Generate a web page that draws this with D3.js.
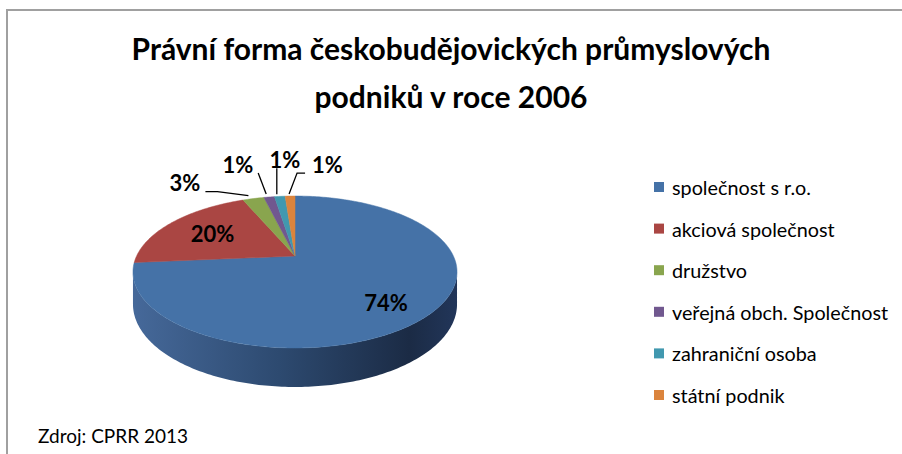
<!DOCTYPE html>
<html>
<head>
<meta charset="utf-8">
<script src="https://cdn.jsdelivr.net/npm/d3@7"></script>
<style>
  body { margin: 0; background: #fff; }
  svg { display: block; }
</style>
</head>
<body>
<svg id="chart" width="902" height="454"></svg>
<script>
// data
const categories = [
  "společnost s r.o.",
  "akciová společnost",
  "družstvo",
  "veřejná obch. Společnost",
  "zahraniční osoba",
  "státní podnik"
];
const shares = [73.6, 20.0, 2.6, 1.3, 1.3, 1.2];
const colors = ["#4572a7", "#aa4643", "#89a54e", "#71588f", "#4198af", "#db843d"];
const titleLines = ["Právní forma českobudějovických průmyslových", "podniků v roce 2006"];
const sourceText = "Zdroj: CPRR 2013";

const svg = d3.select("#chart");
const font = "Lato, 'Open Sans', sans-serif";

// pie geometry (simple perspective of a flat disc)
const cx = 295, cy = 256;
const a = 158.4, b = 72.6, k = 0.2105, depth = 30.8;

function project(theta, r) {
  let u = r * Math.sin(theta);
  let v = -r * Math.cos(theta);
  let w = 1 - k * v;
  return [cx + (a * u) / w, cy + (b * v) / w];
}

function arcPoints(t0, t1, r, drop) {
  let n = Math.max(4, Math.ceil(Math.abs(t1 - t0) * 60));
  let pts = [];
  for (let i = 0; i <= n; i++) {
    let t = t0 + ((t1 - t0) * i) / n;
    let p = project(t, r);
    if (drop) {
      let w = 1 + k * r * Math.cos(t);
      p[1] += depth / w;
    }
    pts.push(p);
  }
  return pts;
}

const line = d3.line();

// border (top and left edges of the chart area)
svg.append("path")
  .attr("d", "M7,454 L7,10 L902,10")
  .attr("fill", "none")
  .attr("stroke", "#a0a0a0")
  .attr("stroke-width", 2);

// title
svg.append("g")
  .selectAll("text")
  .data(titleLines)
  .enter()
  .append("text")
  .attr("x", 451)
  .attr("y", function (d, i) { return 60 + i * 48; })
  .attr("text-anchor", "middle")
  .attr("font-family", font)
  .attr("font-weight", "bold")
  .attr("font-size", "30px")
  .attr("fill", "#000")
  .text(function (d) { return d; });

// side gradient
const defs = svg.append("defs");
const grad = defs.append("linearGradient")
  .attr("id", "sideGrad")
  .attr("gradientUnits", "userSpaceOnUse")
  .attr("x1", cx - a * 1.03).attr("x2", cx + a * 1.03)
  .attr("y1", 0).attr("y2", 0);
[["0%", "#46699a"], ["45%", "#2d4a70"], ["85%", "#1b2b45"], ["100%", "#22365a"]]
  .forEach(function (s) {
    grad.append("stop").attr("offset", s[0]).attr("stop-color", s[1]);
  });

const pie = d3.pie().sort(null).value(function (d) { return d; });
const slices = pie(shares);

// side of the disc (only the front part shows, all of it in the first slice)
const tR = Math.acos(-k), tL = 2 * Math.PI - tR;
const sidePts = arcPoints(tR, tL, 1, false).concat(arcPoints(tL, tR, 1, true));
svg.append("path")
  .attr("d", line(sidePts) + "Z")
  .attr("fill", "url(#sideGrad)");

// top face
svg.append("g")
  .selectAll("path")
  .data(slices)
  .enter()
  .append("path")
  .attr("d", function (d) {
    let pts = [[cx, cy]].concat(arcPoints(d.startAngle, d.endAngle, 1, false));
    return line(pts) + "Z";
  })
  .attr("fill", function (d, i) { return colors[i]; })
  .attr("stroke", function (d, i) { return colors[i]; })
  .attr("stroke-width", 0.5);

function pct(d) {
  return Math.round(d.value) + "%";
}

// inside labels
const insideLabels = [
  { i: 0, r: 0.66, dx: 6, dy: 11 },
  { i: 1, r: 0.6, dx: -6, dy: -1 }
];
svg.append("g")
  .selectAll("text")
  .data(insideLabels)
  .enter()
  .append("text")
  .attr("x", function (d) {
    let s = slices[d.i];
    return project((s.startAngle + s.endAngle) / 2, d.r)[0] + d.dx;
  })
  .attr("y", function (d) {
    let s = slices[d.i];
    return project((s.startAngle + s.endAngle) / 2, d.r)[1] + d.dy;
  })
  .attr("text-anchor", "middle")
  .attr("dominant-baseline", "central")
  .attr("font-family", font)
  .attr("font-weight", "bold")
  .attr("font-size", "22px")
  .text(function (d) { return pct(slices[d.i]); });

// outside labels with leader lines (offsets from the rim point)
const outsideLabels = [
  { i: 2, start: [-5, -3], elbow: [-36, -7], tail: -12, anchor: "end", tx: -5, ty: -1 },
  { i: 3, start: [-3, -3], elbow: [-11, -24], tail: 0, anchor: "end", tx: -5, ty: 0 },
  { i: 4, start: [-3, -2], elbow: [-3, -28], tail: 0, anchor: "middle", tx: 8, ty: 0 },
  { i: 5, start: [-1, -2], elbow: [7, -23], tail: 8, anchor: "start", tx: 7, ty: 0 }
];

const out = svg.append("g")
  .selectAll("g")
  .data(outsideLabels)
  .enter()
  .append("g")
  .each(function (d) {
    let s = slices[d.i];
    d.rim = project((s.startAngle + s.endAngle) / 2, 1);
    d.p0 = [d.rim[0] + d.start[0], d.rim[1] + d.start[1]];
    d.p1 = [d.rim[0] + d.elbow[0], d.rim[1] + d.elbow[1]];
    d.p2 = [d.p1[0] + d.tail, d.p1[1]];
  });

out.append("path")
  .attr("d", function (d) { return line([d.p0, d.p1, d.p2]); })
  .attr("fill", "none")
  .attr("stroke", "#000")
  .attr("stroke-width", 1.3);

out.append("text")
  .attr("x", function (d) { return d.p2[0] + d.tx; })
  .attr("y", function (d) { return d.p2[1] + d.ty; })
  .attr("text-anchor", function (d) { return d.anchor; })
  .attr("font-family", font)
  .attr("font-weight", "bold")
  .attr("font-size", "22px")
  .text(function (d) { return pct(slices[d.i]); });

// legend
const legend = svg.append("g")
  .selectAll("g")
  .data(categories)
  .enter()
  .append("g")
  .attr("transform", function (d, i) {
    return "translate(654," + (187 + i * 41.6) + ")";
  });

legend.append("rect")
  .attr("x", 0)
  .attr("y", -5)
  .attr("width", 10)
  .attr("height", 10)
  .attr("fill", function (d, i) { return colors[i]; });

legend.append("text")
  .attr("x", 18)
  .attr("y", 0)
  .attr("dominant-baseline", "central")
  .attr("font-family", font)
  .attr("font-size", "19.8px")
  .attr("fill", "#000")
  .text(function (d) { return d; });

// source note
svg.append("text")
  .attr("x", 38)
  .attr("y", 443)
  .attr("font-family", font)
  .attr("font-size", "19px")
  .attr("fill", "#000")
  .text(sourceText);
</script>
</body>
</html>
